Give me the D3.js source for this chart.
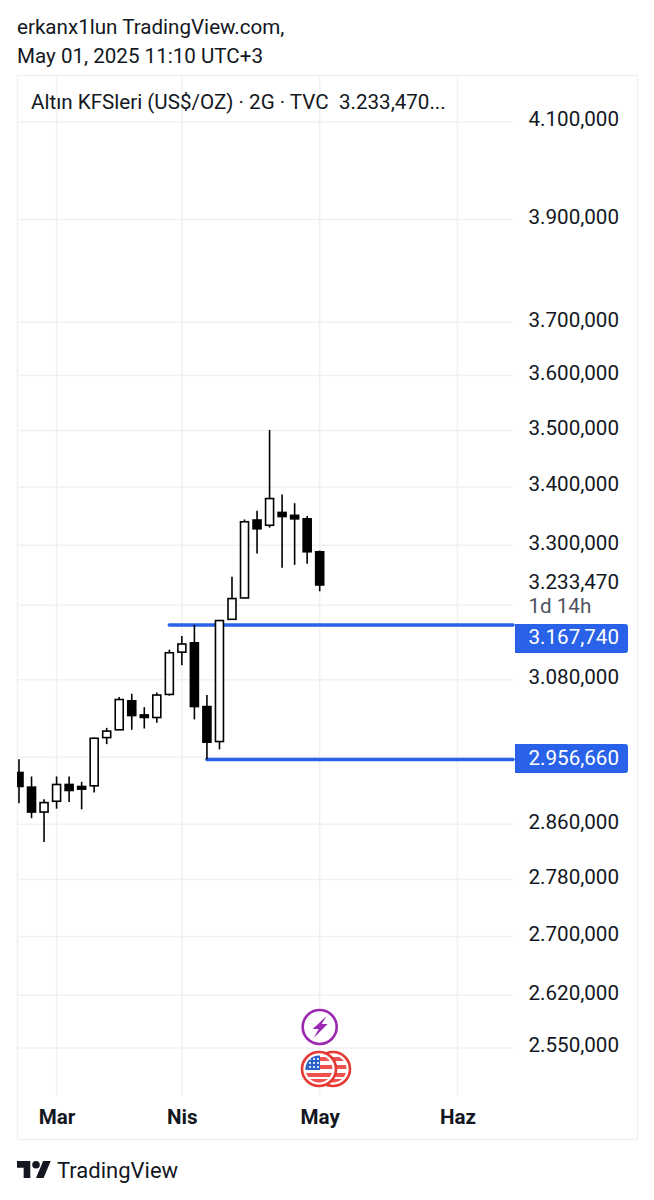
<!DOCTYPE html>
<html>
<head>
<meta charset="utf-8">
<style>
  html, body { margin: 0; padding: 0; background: #fff; }
  svg { display: block; }
  text { font-family: Roboto, sans-serif; fill: #131722; }
</style>
</head>
<body>
<div id="graph"></div>
<script src="https://cdnjs.cloudflare.com/ajax/libs/d3/7.8.5/d3.min.js"></script>
<script>
// candles, 2 day bars
const open  = [2937, 2915, 2878, 2894, 2919, 2916, 2917, 2990, 3002, 3047, 3025, 3021, 3057, 3124, 3139, 3038, 2984, 3177, 3212, 3343, 3334, 3356, 3351, 3345, 3289];
const high  = [2957, 2931, 2897, 2931, 2931, 2923, 2990, 3005, 3053, 3058, 3037, 3060, 3128, 3150, 3168, 3056, 3176, 3247, 3344, 3359, 3501, 3387, 3372, 3350, 3291];
const low   = [2891, 2869, 2834, 2883, 2893, 2882, 2907, 2980, 3002, 3002, 3004, 3013, 3055, 3103, 3018, 2957, 2972, 3177, 3212, 3286, 3330, 3262, 3267, 3269, 3223];
const close = [2916, 2878, 2892, 2919, 2910, 2912, 2989, 3000, 3049, 3024, 3021, 3056, 3123, 3137, 3038, 2983, 3175, 3211, 3340, 3328, 3380, 3349, 3345, 3289, 3233.47];

const priceTicks = [4100, 3900, 3700, 3600, 3500, 3400, 3300, 3080, 2860, 2780, 2700, 2620, 2550];
const hiddenTicks = [3200, 2960]; // grid only, label covered by the tags
const timeIndex = [3, 13, 24, 35];
const timeLabels = ['Mar', 'Nis', 'May', 'Haz'];

const lastPrice = 3233.47;
const levels = [{price: 3167.74, start: 12}, {price: 2956.66, start: 15}];

const W = 654, H = 1200;
const pane = {left: 17, top: 76, right: 513, bottom: 1095};
const blue = '#2962e8';
const fontSize = 20.6;

const x = d3.scaleLinear().domain([0, 35]).range([19, 457.5]);
const y = d3.scaleLog().domain([4100, 2550]).range([122, 1048]);

const fmt = d3.formatLocale({decimal: ',', thousands: '.', grouping: [3], currency: ['', '']}).format(',.3f');

const svg = d3.select('#graph').append('svg').attr('width', W).attr('height', H);

svg.append('defs').append('clipPath').attr('id', 'plot')
  .append('rect')
  .attr('x', pane.left).attr('y', pane.top)
  .attr('width', pane.right - pane.left).attr('height', pane.bottom - pane.top);

// title
svg.append('text').attr('x', 17).attr('y', 34).attr('font-size', fontSize).text('erkanx1lun TradingView.com,');
svg.append('text').attr('x', 17).attr('y', 63).attr('font-size', fontSize).text('May 01, 2025 11:10 UTC+3');

// outer frame
svg.append('rect')
  .attr('x', 17.5).attr('y', 75.5).attr('width', 620).attr('height', 1064)
  .attr('fill', 'none').attr('stroke', '#f0f1f3').attr('stroke-width', 1.5);

// grid
const grid = svg.append('g').attr('stroke', '#f0f1f3').attr('stroke-width', 1.5);
grid.selectAll('.h').data(priceTicks.concat(hiddenTicks)).enter().append('line')
  .attr('x1', pane.left).attr('x2', pane.right)
  .attr('y1', d => y(d)).attr('y2', d => y(d));
grid.selectAll('.v').data(timeIndex).enter().append('line')
  .attr('x1', d => x(d)).attr('x2', d => x(d))
  .attr('y1', pane.top).attr('y2', pane.bottom);

// horizontal levels
svg.selectAll('.level').data(levels).enter().append('line')
  .attr('x1', d => x(d.start)).attr('x2', pane.right)
  .attr('y1', d => y(d.price)).attr('y2', d => y(d.price))
  .attr('stroke', blue).attr('stroke-width', 3.6).attr('stroke-linecap', 'round');

// candles
const candles = svg.append('g').attr('clip-path', 'url(#plot)');
const bars = candles.selectAll('g').data(open.map((o, i) => i)).enter().append('g');
bars.append('line')
  .attr('x1', i => x(i)).attr('x2', i => x(i))
  .attr('y1', i => y(high[i])).attr('y2', i => y(low[i]))
  .attr('stroke', '#000').attr('stroke-width', 1.6);
bars.append('rect')
  .attr('x', i => x(i) - 4)
  .attr('width', 8)
  .attr('y', i => y(Math.max(open[i], close[i])))
  .attr('height', i => Math.abs(y(open[i]) - y(close[i])))
  .attr('fill', i => close[i] >= open[i] ? '#fff' : '#000')
  .attr('stroke', '#000').attr('stroke-width', 1.6);

// price axis
const yAxis = svg.append('g')
  .attr('transform', 'translate(528.5,-2.7)')
  .call(d3.axisRight(y).tickValues(priceTicks).tickSize(0).tickPadding(0).tickFormat(fmt));
yAxis.select('.domain').remove();
yAxis.selectAll('text').attr('font-size', fontSize).attr('font-family', 'Roboto, sans-serif').attr('fill', '#131722');

// time axis
const xAxis = svg.append('g')
  .attr('transform', 'translate(0,1109)')
  .call(d3.axisBottom(x).tickValues(timeIndex).tickSize(0).tickPadding(0)
    .tickFormat((d, i) => timeLabels[i]));
xAxis.select('.domain').remove();
xAxis.selectAll('text').attr('font-size', 20.6).attr('font-weight', 700)
  .attr('font-family', 'Roboto, sans-serif').attr('fill', '#131722');

// header inside pane
svg.append('text').attr('x', 31).attr('y', 109).attr('font-size', fontSize).attr('xml:space', 'preserve')
  .text('Altın KFSleri (US$/OZ) · 2G · TVC  3.233,470...');

// last price label
svg.append('text').attr('x', 528.5).attr('y', y(lastPrice) + 4.5).attr('font-size', fontSize).text(fmt(lastPrice));
svg.append('text').attr('x', 528.5).attr('y', y(lastPrice) + 28).attr('font-size', 20.6)
  .style('fill', '#50535e').text('1d 14h');

// level tags
const tag = svg.selectAll('.tag').data(levels).enter().append('g')
  .attr('transform', d => `translate(515,${y(d.price)})`);
tag.append('path')
  .attr('fill', blue)
  .attr('d', (d, i) => {
    const t = i === 0 ? -1 : -15.5, h = 29, w = 113, r = 3;
    return `M0,${t}H${w - r}a${r},${r} 0 0 1 ${r},${r}V${t + h - r}a${r},${r} 0 0 1 ${-r},${r}H0Z`;
  });
tag.append('text')
  .attr('x', 13.5).attr('y', (d, i) => i === 0 ? 19 : 6)
  .attr('font-size', fontSize).style('fill', '#fff')
  .text(d => fmt(d.price));

// event icons under the last bar
const ev = svg.append('g').attr('transform', `translate(${x(24)},1027)`);
ev.append('circle').attr('r', 17).attr('fill', '#fff').attr('stroke', '#9c27b0').attr('stroke-width', 2.6);
ev.append('path').attr('d', 'M7,-11 L-7,2 L-1,2 L-6,11 L8,-3 L2,-3 Z').attr('fill', '#9c27b0');

const flagDefs = svg.select('defs');
flagDefs.append('clipPath').attr('id', 'flagClip').append('circle').attr('r', 13.5);
const stripes = [-12, -4, 4];
[333, 319].forEach(cx => {
  const f = svg.append('g').attr('transform', `translate(${cx},1069)`);
  f.append('circle').attr('r', 17).attr('fill', '#fff').attr('stroke', '#e53935').attr('stroke-width', 2.6);
  const inner = f.append('g').attr('clip-path', 'url(#flagClip)');
  stripes.forEach(s => inner.append('rect').attr('x', -14).attr('y', s).attr('width', 28).attr('height', 4).attr('fill', '#ef5350'));
  inner.append('rect').attr('x', -14).attr('y', 10).attr('width', 28).attr('height', 4).attr('fill', '#ef5350');
  if (cx === 319) {
    inner.append('rect').attr('x', -14).attr('y', -14).attr('width', 15).attr('height', 15).attr('fill', '#2962c8');
    for (let r = 0; r < 3; r++) for (let c = 0; c < 3; c++) {
      inner.append('circle').attr('cx', -9 + c * 4).attr('cy', -10 + r * 4).attr('r', 1.1).attr('fill', '#fff');
    }
  }
});

// TradingView logo
const logo = svg.append('g').attr('transform', 'translate(17,1157.2) scale(0.95)');
logo.append('path').attr('d', 'M14 22H7V11H0V4h14v18zM28 22h-8l7.5-18h8L28 22z').attr('fill', '#131722');
logo.append('circle').attr('cx', 20).attr('cy', 8).attr('r', 4).attr('fill', '#131722');
svg.append('text').attr('x', 57).attr('y', 1178).attr('font-size', 22).text('TradingView');
</script>
</body>
</html>
